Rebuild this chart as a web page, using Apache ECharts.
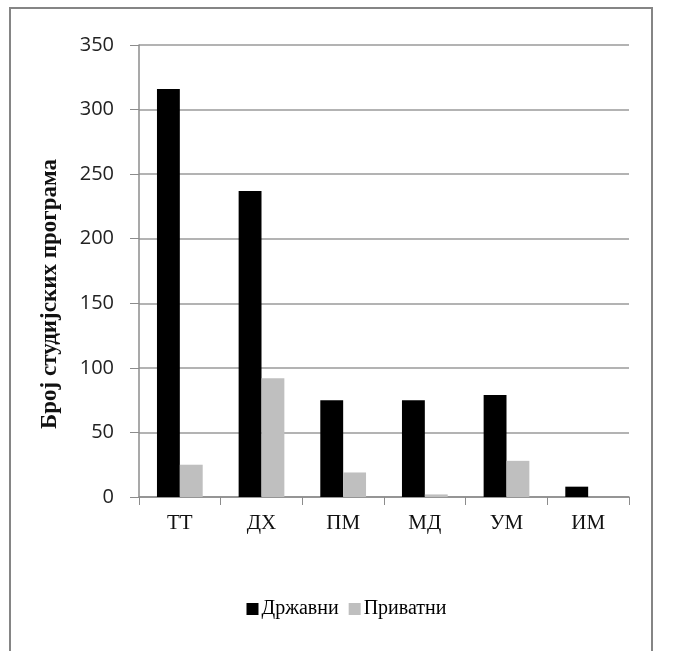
<!DOCTYPE html>
<html>
<head>
    <meta charset="UTF-8">
    <title>chart</title>
    <script src="https://cdn.jsdelivr.net/npm/echarts@6/dist/echarts.min.js"></script>
    <style>
        *{margin:0;padding:0}
        html,body{width:100%;height:100%;background:#fff}
        #main{width:693px;height:651px}
    </style>
</head>
<body>
    <div id="main"></div>
    <script type="text/javascript">
        // области
        var categories = ['ТТ', 'ДХ', 'ПМ', 'МД', 'УМ', 'ИМ'];
        var drzavni = [316, 237, 75, 75, 79, 8];
        var privatni = [25, 92, 19, 2, 28, 0];
        var yTicks = [0, 50, 100, 150, 200, 250, 300, 350];

        var myChart = echarts.init(document.getElementById('main'));
        var option = {
            backgroundColor: '#fff',
            animation: false,
            graphic: [{
                type: 'rect',
                shape: {x: 10, y: 8, width: 642, height: 650},
                style: {fill: 'none', stroke: '#858585', lineWidth: 2}
            }],
            grid: {left: 139, right: 64, top: 45, bottom: 154},
            legend: {
                data: ['Државни', 'Приватни'],
                left: 'center',
                top: 594,
                icon: 'rect',
                itemWidth: 12,
                itemHeight: 12,
                itemGap: 10,
                textStyle: {fontFamily: 'Liberation Serif', fontSize: 20, color: '#000', padding: [0, 0, 0, -2]}
            },
            xAxis: {
                type: 'category',
                data: categories,
                axisLine: {lineStyle: {color: '#8c8c8c', width: 1.5}},
                axisTick: {show: true, length: 8, lineStyle: {color: '#8c8c8c'}},
                axisLabel: {fontFamily: 'Liberation Serif', fontSize: 21, color: '#111', margin: 16}
            },
            yAxis: {
                type: 'value',
                min: yTicks[0],
                max: yTicks[yTicks.length - 1],
                interval: 50,
                name: 'Број студијских програма',
                nameLocation: 'middle',
                nameGap: 77,
                nameTextStyle: {fontFamily: 'Liberation Serif', fontWeight: 'bold', fontSize: 23, color: '#111', padding: [0, 46, 0, 0]},
                axisLine: {show: true, lineStyle: {color: '#8c8c8c', width: 1.5}},
                axisTick: {show: true, length: 9, lineStyle: {color: '#8c8c8c'}},
                axisLabel: {fontFamily: 'Open Sans', fontSize: 20, color: '#222', margin: 25},
                splitLine: {lineStyle: {color: '#9a9a9a', width: 1.5}}
            },
            series: [
                {
                    name: 'Државни',
                    type: 'bar',
                    data: drzavni,
                    barGap: '0%',
                    barCategoryGap: '44%',
                    itemStyle: {color: '#000'}
                },
                {
                    name: 'Приватни',
                    type: 'bar',
                    data: privatni,
                    itemStyle: {color: '#bfbfbf'}
                }
            ]
        };
        myChart.setOption(option);
    </script>
</body>
</html>
